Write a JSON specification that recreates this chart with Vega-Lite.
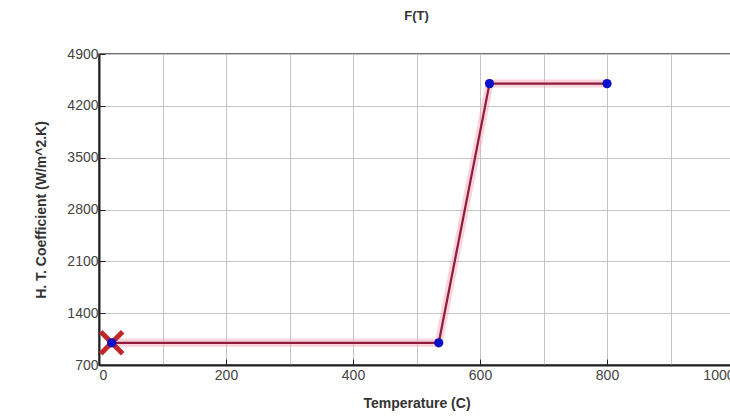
{
  "$schema": "https://vega.github.io/schema/vega-lite/v6.json",
  "autosize": "none",
  "width": 635,
  "height": 311,
  "padding": {"left": 99, "top": 54, "right": 0, "bottom": 52},
  "background": "white",
  "title": {"text": "F(T)", "font": "Liberation Sans", "fontSize": 13, "fontWeight": "bold", "color": "#333", "offset": 24},
  "config": {
    "view": {"stroke": "#444", "strokeWidth": 1.5},
    "axis": {"labelFont": "Liberation Sans", "titleFont": "Liberation Sans", "labelFontSize": 14, "labelColor": "#444", "titleFontSize": 14, "titleFontWeight": "bold", "titleColor": "#333", "gridColor": "#c4c4c4", "gridWidth": 1, "domainColor": "#222", "domainWidth": 2}
  },
  "datasets": {
    "curve": [
      {"T": 20, "h": 1000},
      {"T": 535, "h": 1000},
      {"T": 615, "h": 4500},
      {"T": 800, "h": 4500}
    ],
    "start": [{"T": 20, "h": 1000}]
  },
  "layer": [
    {
      "data": {"name": "curve"},
      "mark": {"type": "line", "color": "#f7a8b8", "strokeWidth": 8, "opacity": 0.5},
      "encoding": {
        "x": {"field": "T", "type": "quantitative", "scale": {"domain": [0, 1000], "nice": false},
          "axis": {"values": [0,100,200,300,400,500,600,700,800,900,1000], "labelExpr": "datum.value % 200 == 0 ? datum.label : ''", "format": "d", "title": "Temperature (C)", "tickSize": -6, "tickColor": {"condition": {"test": "datum.value % 200 == 0", "value": "#222"}, "value": "transparent"}, "labelPadding": 9, "titlePadding": 14}},
        "y": {"field": "h", "type": "quantitative", "scale": {"domain": [700, 4900], "nice": false, "zero": false},
          "axis": {"values": [700,1050,1400,1750,2100,2450,2800,3150,3500,3850,4200,4550,4900], "labelExpr": "datum.value % 700 == 0 ? datum.label : ''", "format": "d", "title": "H. T. Coefficient (W/m^2.K)", "tickSize": -6, "tickColor": {"condition": {"test": "datum.value % 700 == 0", "value": "#222"}, "value": "transparent"}, "labelPadding": 7, "titlePadding": 18}}
      }
    },
    {
      "data": {"name": "curve"},
      "mark": {"type": "line", "color": "#8e1c3c", "strokeWidth": 2.2},
      "encoding": {
        "x": {"field": "T", "type": "quantitative"},
        "y": {"field": "h", "type": "quantitative"}
      }
    },
    {
      "data": {"name": "start"},
      "mark": {"type": "point", "shape": "M-1,-1L1,1M-1,1L1,-1", "filled": false, "color": "#c0282c", "strokeWidth": 5, "size": 480, "opacity": 1},
      "encoding": {
        "x": {"field": "T", "type": "quantitative"},
        "y": {"field": "h", "type": "quantitative"}
      }
    },
    {
      "data": {"name": "curve"},
      "mark": {"type": "point", "shape": "circle", "filled": true, "color": "#0a10c8", "size": 85, "opacity": 1},
      "encoding": {
        "x": {"field": "T", "type": "quantitative"},
        "y": {"field": "h", "type": "quantitative"}
      }
    }
  ]
}
